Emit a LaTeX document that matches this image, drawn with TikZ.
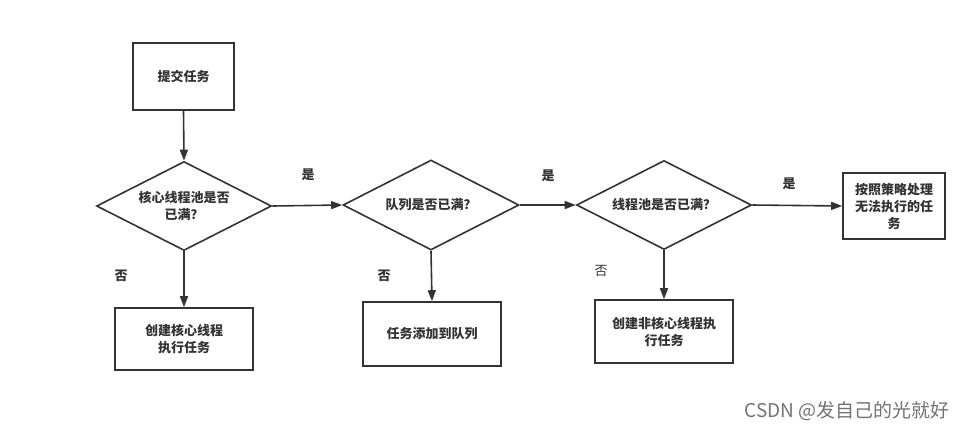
\documentclass[tikz,border=0pt]{standalone}
\usepackage{fontspec}
\newfontfamily\cjk{Noto Sans CJK SC}
\usetikzlibrary{shapes.geometric,arrows.meta}
\tikzset{
  lbl/.style={font=\cjk\fontsize{13}{17}\selectfont\bfseries, text=black!80},
  box/.style={draw=black!80, line width=1.6pt, rectangle, align=center, inner sep=0pt, lbl},
  dia/.style={draw=black!80, line width=1.6pt, diamond, aspect=1.97, align=center, inner sep=0pt, minimum width=175pt, minimum height=89pt, lbl},
  arr/.style={draw=black!80, line width=1.6pt, -{Triangle[length=11pt,width=8pt]}},
  yn/.style={lbl}
}
\begin{document}
\begin{tikzpicture}[x=1pt,y=-1pt]
\useasboundingbox (0,0) rectangle (969,432);
\fill[white] (0,0) rectangle (969,432);
\node[box, minimum width=101pt, minimum height=67pt] (submit) at (183.5,76.5) {提交任务};
\node[dia] (d1) at (184,206) {核心线程池是否\\已满？};
\node[dia, minimum width=176pt, minimum height=90pt] (d2) at (431,205) {队列是否已满？};
\node[dia] (d3) at (664,205) {线程池是否已满？};
\node[box, minimum width=102pt, minimum height=66pt] (reject) at (894,206) {按照策略处理\\无法执行的任\\务};
\node[box, minimum width=138pt, minimum height=62pt] (core) at (184,339) {创建核心线程\\执行任务};
\node[box, minimum width=138pt, minimum height=64pt] (queue) at (432,334) {任务添加到队列};
\node[box, minimum width=138pt, minimum height=63pt] (noncore) at (664,331.5) {创建非核心线程执\\行任务};
\draw[arr] (submit.south) -- (d1.north);
\draw[arr] (d1.east) -- (d2.west);
\draw[arr] (d2.east) -- (d3.west);
\draw[arr] (d3.east) -- (reject.west);
\draw[arr] (d1.south) -- (core.north);
\draw[arr] (d2.south) -- (queue.north);
\draw[arr] (d3.south) -- (noncore.north);
\node[yn] (y1) at (308,175) {是};
\node[yn] (y2) at (548,176) {是};
\node[yn] (y3) at (789,184) {是};
\node[yn] (n1) at (121,276) {否};
\node[yn] (n2) at (384,276) {否};
\node[yn, font=\cjk\fontsize{13}{17}\selectfont] (n3) at (601,271) {否};
\node[font=\cjk\fontsize{19}{22}\selectfont, text=black!55, anchor=west] (wm) at (741,411) {CSDN @发自己的光就好};
\end{tikzpicture}
\end{document}
